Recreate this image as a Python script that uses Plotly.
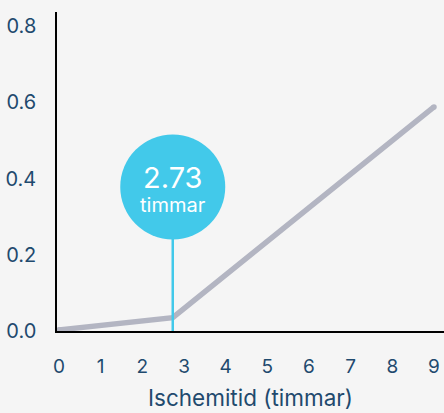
import plotly.graph_objects as go

# Data
hours = [0, 2.73, 9]
values = [0.003, 0.035, 0.588]
marker_hour = 2.73
marker_label = "2.73"
marker_unit = "timmar"
x_ticks = [0, 1, 2, 3, 4, 5, 6, 7, 8, 9]
y_ticks = [0.0, 0.2, 0.4, 0.6, 0.8]
y_tick_text = ["0.0", "0.2", "0.4", "0.6", "0.8"]
x_title = "Ischemitid (timmar)"

BG = "#f5f5f5"
TXT = "#1f4a6e"
CYAN = "#42c9ea"
GRAY = "#b3b5c2"
FONT = "Inter, Roboto, sans-serif"

fig = go.Figure()
fig.add_trace(go.Scatter(
    x=hours, y=values, mode="lines",
    line=dict(color=GRAY, width=5.5),
    hoverinfo="skip", showlegend=False,
))
# round end caps
fig.add_trace(go.Scatter(
    x=[hours[0], hours[-1]], y=[values[0], values[-1]], mode="markers",
    marker=dict(color=GRAY, size=5.5, line=dict(width=0)),
    hoverinfo="skip", showlegend=False,
))

circle_y = 0.378
fig.add_shape(type="line", x0=marker_hour, x1=marker_hour, y0=0, y1=circle_y,
              line=dict(color=CYAN, width=2.5), layer="above")
fig.add_shape(type="circle", xref="x", yref="y",
              xsizemode="pixel", ysizemode="pixel",
              xanchor=marker_hour, yanchor=circle_y,
              x0=-52.5, x1=52.5, y0=-52.5, y1=52.5,
              fillcolor=CYAN, line=dict(width=0), layer="above")
fig.add_annotation(x=marker_hour, y=circle_y, text=marker_label, showarrow=False,
                   yshift=9, font=dict(family=FONT, size=29, color="white"))
fig.add_annotation(x=marker_hour, y=circle_y, text=marker_unit, showarrow=False,
                   yshift=-18, font=dict(family=FONT, size=20, color="white"))

fig.update_layout(
    width=444, height=413,
    margin=dict(l=57, r=0, t=12, b=82),
    paper_bgcolor=BG, plot_bgcolor=BG,
    font=dict(family=FONT, color=TXT),
    showlegend=False,
)
fig.update_xaxes(
    range=[-0.048, 9.24], tickvals=x_ticks,
    showgrid=False, zeroline=False,
    showline=True, linecolor="black", linewidth=1.5,
    ticks="", ticklabelstandoff=17,
    tickfont=dict(family=FONT, size=19, color=TXT),
    title=dict(text=x_title, font=dict(family=FONT, size=22.5, color=TXT), standoff=14),
)
fig.update_yaxes(
    range=[0, 0.837], tickvals=y_ticks, ticktext=y_tick_text,
    showgrid=False, zeroline=False,
    showline=True, linecolor="black", linewidth=1.5,
    ticks="", ticklabelstandoff=15,
    tickfont=dict(family=FONT, size=20, color=TXT),
)

fig.write_html(
    "out.html",
    config={"displayModeBar": False},
    post_script="document.body.style.margin='0';document.body.style.overflow='hidden';document.body.style.background='#f5f5f5';",
)
